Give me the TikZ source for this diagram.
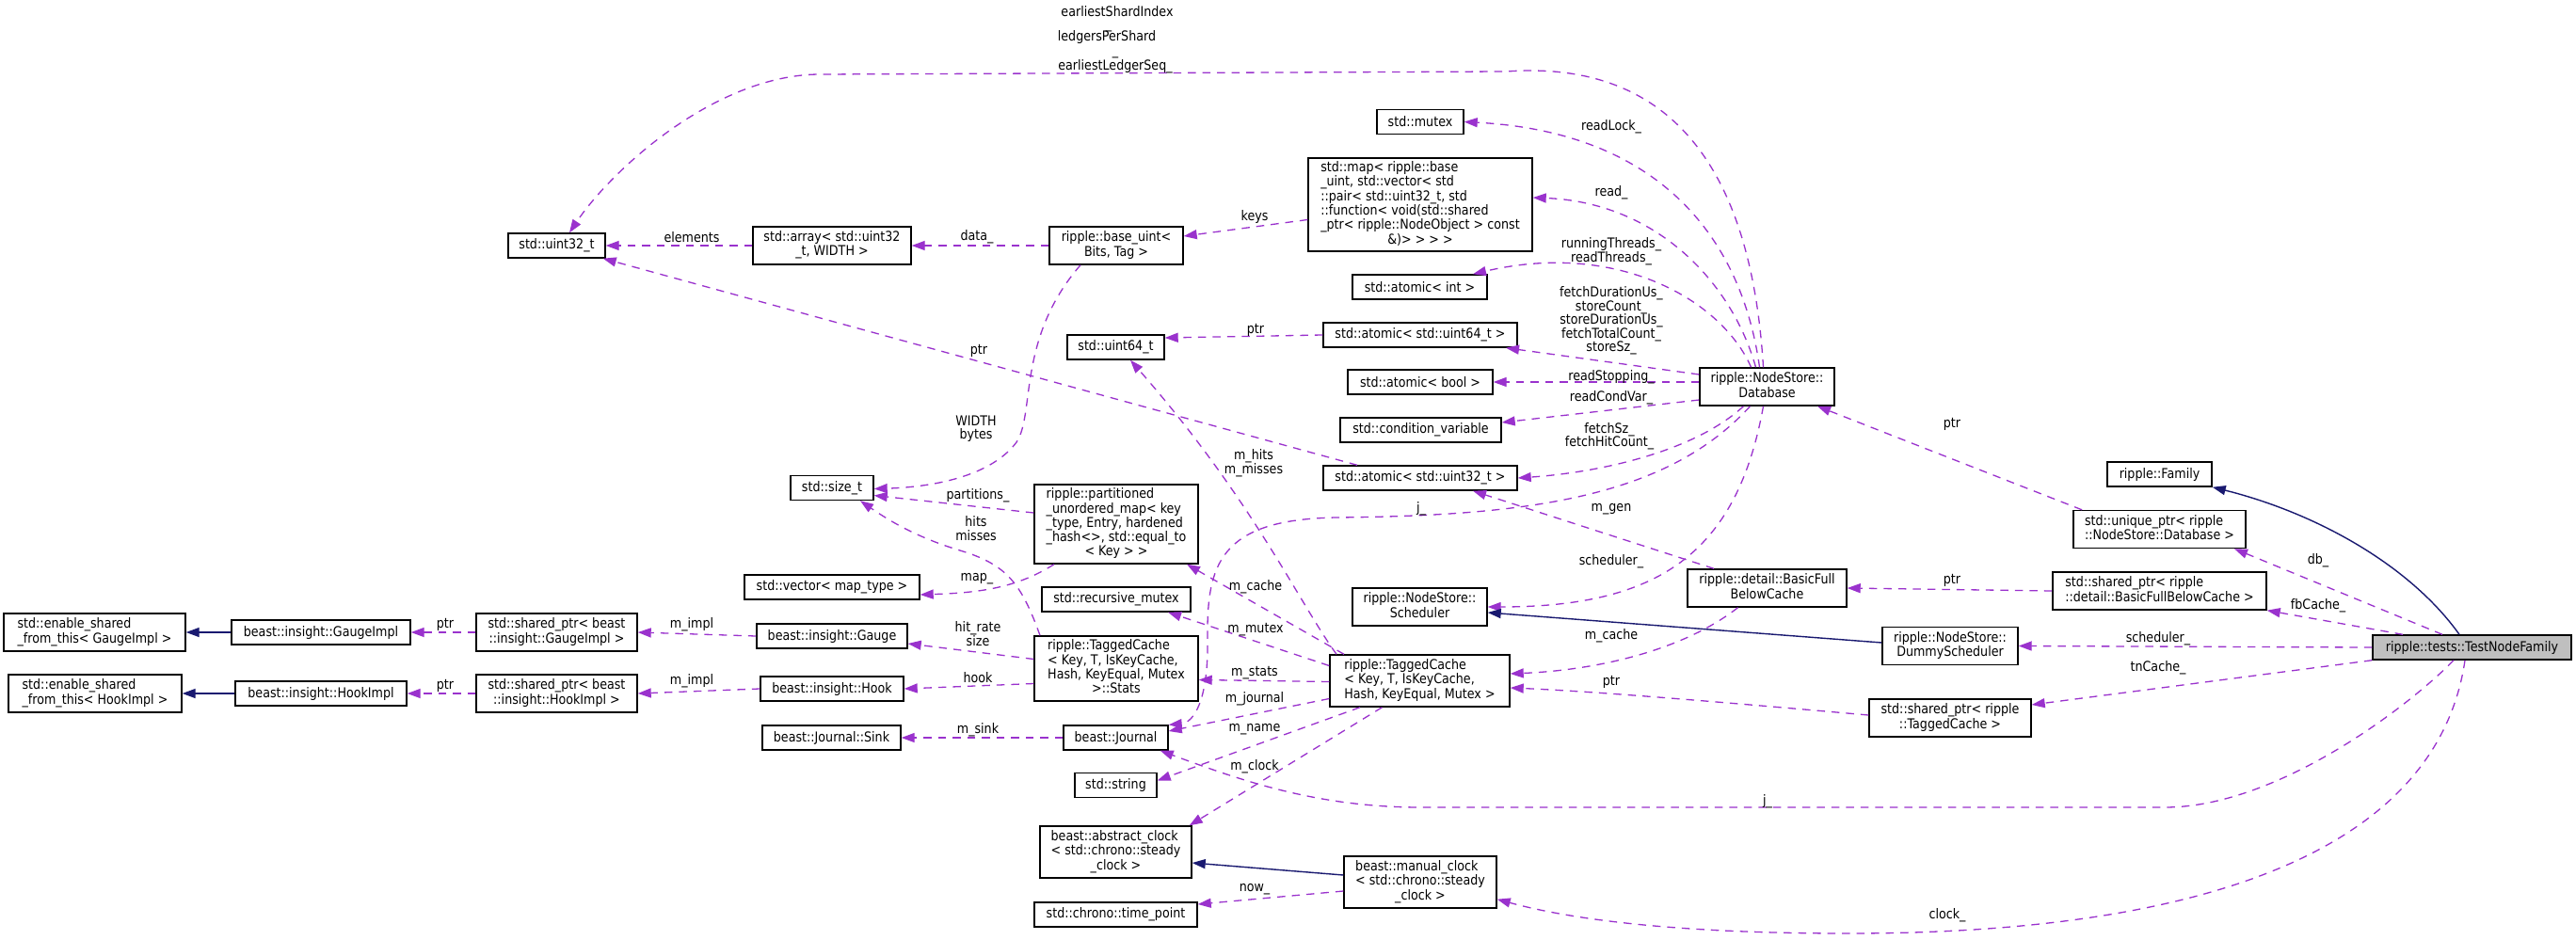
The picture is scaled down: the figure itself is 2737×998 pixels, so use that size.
\documentclass[tikz,border=0pt]{standalone}
\usepackage{fontspec}
\setmainfont{DejaVu Sans}[FakeStretch=0.875]
\usetikzlibrary{arrows.meta,calc}
\definecolor{depcol}{HTML}{9A32CD}
\definecolor{inhcol}{HTML}{191970}
\newcommand{\mlines}[2]{\begin{tabular}{@{}l@{}}#1\\\multicolumn{1}{@{}c@{}}{#2}\end{tabular}}
\begin{document}
\begin{tikzpicture}[x=1pt,y=-1pt,
  every node/.append style={font=\fontsize{14.5}{14.5}\selectfont},
  box/.style={draw=black, line width=1.4pt, fill=white, inner sep=0pt, align=center},
  lab/.style={inner sep=0pt, align=center},
  dep/.style={draw=depcol, line width=1.3pt, dash pattern=on 8.5pt off 7pt, -{Triangle[length=14pt,width=10pt,fill=depcol]}},
  inh/.style={draw=inhcol, line width=1.4pt, -{Triangle[length=14pt,width=10pt,fill=inhcol]}}]
\fill[white] (0,0) rectangle (2737,998);
\useasboundingbox (0,0) rectangle (2737,998);
% nodes
\node[box, minimum width=103pt, minimum height=26pt] (u32) at (591.5,261) {std::uint32\_t};
\node[box, minimum width=168pt, minimum height=40pt] (arr) at (884,261) {\mlines{std::array< std::uint32}{\_t, WIDTH >}};
\node[box, minimum width=142pt, minimum height=40pt] (bu) at (1186,261) {\mlines{ripple::base\_uint<}{Bits, Tag >}};
\node[box, minimum width=238pt, minimum height=99pt] (map) at (1509,217.5) {\mlines{std::map< ripple::base\\\_uint, std::vector< std\\::pair< std::uint32\_t, std\\::function< void(std::shared\\\_ptr< ripple::NodeObject > const}{\&)> > > >}};
\node[box, minimum width=92pt, minimum height=26pt] (mtx) at (1509,129.5) {std::mutex};
\node[box, minimum width=143pt, minimum height=26pt] (aint) at (1508.5,305) {std::atomic< int >};
\node[box, minimum width=103pt, minimum height=26pt] (u64) at (1185.5,369) {std::uint64\_t};
\node[box, minimum width=206pt, minimum height=26pt] (a64) at (1509,356) {std::atomic< std::uint64\_t >};
\node[box, minimum width=154pt, minimum height=26pt] (abool) at (1509,406) {std::atomic< bool >};
\node[box, minimum width=171pt, minimum height=26pt] (cv) at (1509.5,457) {std::condition\_variable};
\node[box, minimum width=206pt, minimum height=26pt] (a32) at (1509,508) {std::atomic< std::uint32\_t >};
\node[box, minimum width=143pt, minimum height=40pt] (db) at (1877.5,411) {\mlines{ripple::NodeStore::}{Database}};
\node[box, minimum width=88pt, minimum height=26pt] (st) at (884,518.5) {std::size\_t};
\node[box, minimum width=174pt, minimum height=84pt] (part) at (1186,557) {\mlines{ripple::partitioned\\\_unordered\_map< key\\\_type, Entry, hardened\\\_hash<>, std::equal\_to}{< Key > >}};
\node[box, minimum width=186pt, minimum height=26pt] (vec) at (884,624) {std::vector< map\_type >};
\node[box, minimum width=158pt, minimum height=26pt] (rm) at (1186,637) {std::recursive\_mutex};
\node[box, minimum width=174pt, minimum height=69pt] (stats) at (1186,710.5) {\mlines{ripple::TaggedCache\\< Key, T, IsKeyCache,\\Hash, KeyEqual, Mutex}{>::Stats}};
\node[box, minimum width=160pt, minimum height=26pt] (gauge) at (884,676) {beast::insight::Gauge};
\node[box, minimum width=152pt, minimum height=26pt] (hook) at (884,732) {beast::insight::Hook};
\node[box, minimum width=147pt, minimum height=26pt] (sink) at (883.5,784) {beast::Journal::Sink};
\node[box, minimum width=171pt, minimum height=40pt] (spg) at (591.5,672) {\mlines{std::shared\_ptr< beast}{::insight::GaugeImpl >}};
\node[box, minimum width=171pt, minimum height=40pt] (sph) at (591.5,737) {\mlines{std::shared\_ptr< beast}{::insight::HookImpl >}};
\node[box, minimum width=190pt, minimum height=26pt] (gimpl) at (341,672) {beast::insight::GaugeImpl};
\node[box, minimum width=182pt, minimum height=26pt] (himpl) at (341,737) {beast::insight::HookImpl};
\node[box, minimum width=193pt, minimum height=40pt] (esg) at (100.5,672) {\mlines{std::enable\_shared}{\_from\_this< GaugeImpl >}};
\node[box, minimum width=184pt, minimum height=40pt] (esh) at (101,737) {\mlines{std::enable\_shared}{\_from\_this< HookImpl >}};
\node[box, minimum width=111pt, minimum height=26pt] (jr) at (1185.5,784) {beast::Journal};
\node[box, minimum width=87pt, minimum height=26pt] (str) at (1185.5,834.5) {std::string};
\node[box, minimum width=191pt, minimum height=55pt] (tc) at (1508.5,723.5) {\mlines{ripple::TaggedCache\\< Key, T, IsKeyCache,}{Hash, KeyEqual, Mutex >}};
\node[box, minimum width=161pt, minimum height=55pt] (ac) at (1185.5,905.5) {\mlines{beast::abstract\_clock\\< std::chrono::steady}{\_clock >}};
\node[box, minimum width=162pt, minimum height=55pt] (mc) at (1509,937.5) {\mlines{beast::manual\_clock\\< std::chrono::steady}{\_clock >}};
\node[box, minimum width=173pt, minimum height=26pt] (tp) at (1185.5,972) {std::chrono::time\_point};
\node[box, minimum width=143pt, minimum height=40pt] (sch) at (1508.5,645) {\mlines{ripple::NodeStore::}{Scheduler}};
\node[box, minimum width=169pt, minimum height=40pt] (bfc) at (1877.5,625) {\mlines{ripple::detail::BasicFull}{BelowCache}};
\node[box, minimum width=144pt, minimum height=40pt] (dsch) at (2072,686.5) {\mlines{ripple::NodeStore::}{DummyScheduler}};
\node[box, minimum width=172pt, minimum height=40pt] (sptc) at (2072,763) {\mlines{std::shared\_ptr< ripple}{::TaggedCache >}};
\node[box, minimum width=111pt, minimum height=26pt] (fam) at (2294.5,504) {ripple::Family};
\node[box, minimum width=183pt, minimum height=40pt] (uptr) at (2294.5,562.5) {\mlines{std::unique\_ptr< ripple}{::NodeStore::Database >}};
\node[box, minimum width=227pt, minimum height=40pt] (spbfc) at (2294.5,628) {\mlines{std::shared\_ptr< ripple}{::detail::BasicFullBelowCache >}};
\node[box, fill=gray!50, minimum width=211pt, minimum height=26pt] (tnf) at (2626.5,688) {ripple::tests::TestNodeFamily};
% edges from Database
\draw[dep] ([xshift=-4pt]db.north) .. controls (1862,200) and (1790,62) .. (1600,76) -- (870,79) .. controls (760,80) and (650,180) .. ([xshift=13.5pt]u32.north);
\draw[dep] ([xshift=-8pt]db.north) .. controls (1850,250) and (1760,140) .. (mtx.east);
\draw[dep] ([xshift=-12pt]db.north) .. controls (1840,300) and (1760,215) .. ([yshift=7.5pt]map.east);
\draw[dep] ([xshift=-17pt]db.north) .. controls (1830,320) and (1720,255) .. ([xshift=56.5pt]aint.north);
\draw[dep] ([yshift=13pt]db.west) -- ([xshift=91pt]a64.south);
\draw[dep] (abool.east -| db.west) -- (abool.east);
\draw[dep] ([yshift=-14pt]db.west) -- ([yshift=8pt]cv.east);
\draw[dep] ([xshift=-25pt]db.south) .. controls (1800,480) and (1700,502) .. (a32.east);
\draw[dep] ([xshift=-18pt]db.south) .. controls (1770,530) and (1620,548) .. (1420,550) .. controls (1295,552) and (1282,600) .. (1283,680) .. controls (1284,745) and (1268,768) .. (jr.north east);
\draw[dep] ([xshift=-4pt]db.south) .. controls (1845,590) and (1760,645) .. (sch.east);
% BasicFullBelowCache etc.
\draw[dep] ([xshift=-56.5pt]bfc.north) -- ([xshift=56pt]a32.south);
\draw[dep] ([xshift=-31pt]bfc.south) .. controls (1790,690) and (1700,712) .. ([yshift=7.5pt]tc.east);
\draw[dep] ([yshift=3pt]sptc.west) .. controls (1850,748) and (1700,735) .. ([yshift=-7.5pt]tc.east);
\draw[inh] ([yshift=3.5pt]dsch.west) -- ([yshift=-6pt]sch.east);
\draw[dep] ([xshift=-82.5pt]uptr.north) -- ([xshift=53.5pt]db.south);
\draw[dep] (spbfc.west) -- (bfc.east);
% TestNodeFamily
\draw[inh] ([xshift=-13.5pt]tnf.north) .. controls (2560,600) and (2460,545) .. (fam.south east);
\draw[dep] ([xshift=-31.5pt]tnf.north) -- ([xshift=79.5pt]uptr.south);
\draw[dep] ([xshift=-73.5pt]tnf.north) -- (spbfc.south east);
\draw[dep] (tnf.west) -- (dsch.east);
\draw[dep] (tnf.south west) -- ([yshift=14pt]sptc.east);
\draw[dep] ([xshift=-19.5pt]tnf.south) .. controls (2560,750) and (2420,858) .. (2300,858) -- (1510,858) .. controls (1400,858) and (1320,830) .. ([xshift=-9pt]jr.south east);
\draw[dep] ([xshift=-7.5pt]tnf.south) .. controls (2590,900) and (2350,992) .. (1964,992) .. controls (1800,992) and (1680,980) .. ([yshift=10pt]mc.south east);
% clocks
\draw[inh] ([yshift=7.5pt]mc.west) -- ([yshift=-11.5pt]ac.east);
\draw[dep] ([yshift=-9.5pt]mc.west) -- ([yshift=11pt]tp.east);
% TaggedCache
\draw[dep] ([xshift=-80.5pt]tc.north) -- ([xshift=75pt]part.south);
\draw[dep] ([xshift=-88.5pt]tc.north) .. controls (1380,640) and (1330,530) .. ([xshift=15.5pt]u64.south);
\draw[dep] ([yshift=16pt]tc.west) -- ([xshift=55pt]rm.south);
\draw[dep] ([yshift=-1pt]tc.west) -- ([yshift=-12pt]stats.east);
\draw[dep] ([yshift=-19pt]tc.west) -- ([yshift=7pt]jr.east);
\draw[dep] ([xshift=-63.5pt]tc.south) -- ([yshift=5pt]str.east);
\draw[dep] ([xshift=-40pt]tc.south) -- ([xshift=-3pt]ac.north east);
\draw[dep] (jr.west) -- (sink.east);
% upper left
\draw[dep] ([yshift=-16pt]map.west) -- ([yshift=10pt]bu.east);
\draw[dep] (bu.west) -- (arr.east);
\draw[dep] (arr.west) -- (u32.east);
\draw[dep] ([xshift=-67pt]a32.north) -- ([xshift=-3pt]u32.south east);
\draw[dep] (a64.west) -- ([yshift=10pt]u64.east);
\draw[dep] ([xshift=-38pt]bu.south) .. controls (1080,360) and (1100,440) .. (1080,470) .. controls (1050,510) and (980,518) .. ([yshift=-1pt]st.east);
\draw[dep] ([yshift=12pt]part.west) -- ([yshift=-8pt]st.east);
\draw[dep] ([xshift=-81pt]stats.north) .. controls (1085,620) and (1070,600) .. (1020,585) .. controls (970,570) and (940,550) .. ([xshift=30pt]st.south);
\draw[dep] ([xshift=-66pt]part.south) .. controls (1080,625) and (1040,630) .. ([yshift=-8pt]vec.east);
\draw[dep] ([yshift=10pt]stats.west) -- ([yshift=-8pt]gauge.east);
\draw[dep] ([yshift=-16pt]stats.west) -- (hook.east);
\draw[dep] (gauge.west) -- (spg.east);
\draw[dep] (hook.west) -- (sph.east);
\draw[dep] (spg.west) -- (gimpl.east);
\draw[dep] (sph.west) -- (himpl.east);
\draw[inh] (gimpl.west) -- (esg.east);
\draw[inh] (himpl.west) -- (esh.east);
% labels
\node[lab] (Lesi) at (1187,12) {earliestShardIndex};
\node[lab] (Lu1) at (1178,32) {\_};
\node[lab] (Llps) at (1176,40) {ledgersPerShard};
\node[lab] (Lu2) at (1185,60) {\_};
\node[lab] (Lels) at (1185,71) {earliestLedgerSeq\_};
\node[lab] (Lel) at (735,252) {elements};
\node[lab] (Lda) at (1038,252) {data\_};
\node[lab] (Lke) at (1333,230) {keys};
\node[lab] (Lrl) at (1712,135) {readLock\_};
\node[lab] (Lrd) at (1712,205) {read\_};
\node[lab] (Lrt) at (1712,267) {runningThreads\_\\readThreads\_};
\node[lab] (Lfd) at (1712,341) {fetchDurationUs\_\\storeCount\_\\storeDurationUs\_\\fetchTotalCount\_\\storeSz\_};
\node[lab] (Lrs) at (1712,401) {readStopping\_};
\node[lab] (Lrc) at (1712,423) {readCondVar\_};
\node[lab] (Lfs) at (1710,463.5) {fetchSz\_\\fetchHitCount\_};
\node[lab] (Lp1) at (1040,373) {ptr};
\node[lab] (Lp2) at (1334,351) {ptr};
\node[lab] (Lwb) at (1037,455.5) {WIDTH\\bytes};
\node[lab] (Lpa) at (1039,527) {partitions\_};
\node[lab] (Lhm) at (1037,561.5) {hits\\misses};
\node[lab] (Lmp) at (1038,615) {map\_};
\node[lab] (Lhr) at (1039,673.5) {hit\_rate\\size};
\node[lab] (Lho) at (1039,720) {hook};
\node[lab] (Lms) at (1039,776) {m\_sink};
\node[lab] (Lmi1) at (735,664) {m\_impl};
\node[lab] (Lmi2) at (735,724) {m\_impl};
\node[lab] (Lp3) at (473,664) {ptr};
\node[lab] (Lp4) at (473,729) {ptr};
\node[lab] (Lhi) at (1332,492) {m\_hits\\m\_misses};
\node[lab] (Lj1) at (1510,541) {j\_};
\node[lab] (Lmg) at (1712,541) {m\_gen};
\node[lab] (Lsc1) at (1712,597) {scheduler\_};
\node[lab] (Lmc1) at (1334,624) {m\_cache};
\node[lab] (Lmm) at (1334,669) {m\_mutex};
\node[lab] (Lst) at (1333,715) {m\_stats};
\node[lab] (Lmj) at (1333,743) {m\_journal};
\node[lab] (Lmn) at (1333,775) {m\_name};
\node[lab] (Lmcl) at (1333,815) {m\_clock};
\node[lab] (Lmc2) at (1712,676) {m\_cache};
\node[lab] (Lp5) at (1712,725) {ptr};
\node[lab] (Lnow) at (1333,945) {now\_};
\node[lab] (Lj2) at (1878,852) {j\_};
\node[lab] (Lcl) at (2069,973) {clock\_};
\node[lab] (Lp6) at (2074,451) {ptr};
\node[lab] (Lp7) at (2074,617) {ptr};
\node[lab] (Ldb) at (2463,596) {db\_};
\node[lab] (Lfb) at (2463,644) {fbCache\_};
\node[lab] (Lsc2) at (2293,679) {scheduler\_};
\node[lab] (Ltn) at (2293,710) {tnCache\_};
\end{tikzpicture}
\end{document}
